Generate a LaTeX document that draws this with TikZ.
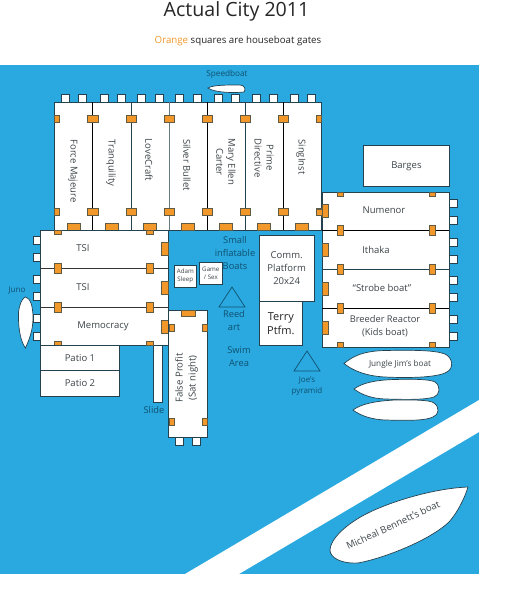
\documentclass[tikz,border=0pt]{standalone}
\usepackage{fontspec}
\setmainfont{Open Sans}
\definecolor{water}{HTML}{29A9E0}
\definecolor{gateo}{HTML}{F2982A}
\definecolor{edge}{HTML}{24414F}
\definecolor{txt}{HTML}{3C4448}
\definecolor{bluetxt}{HTML}{10506F}
\tikzset{
  deck/.style={draw=edge,fill=white,line width=0.9pt},
  gate/.style={draw=edge!70!gateo,fill=gateo,line width=0.4pt},
  cleat/.style={draw=edge,fill=white,line width=0.6pt},
  divider/.style={draw=black!80,line width=0.9pt},
  boatlabel/.style={text=txt,font=\fontsize{9.5}{12}\selectfont,align=center,inner sep=0pt},
  waterlabel/.style={text=bluetxt,font=\fontsize{9.3}{13}\selectfont,align=center,inner sep=0pt},
  hull/.style={draw=edge,fill=white,line width=0.7pt},
  pyr/.style={draw=bluetxt,line width=0.7pt}
}
\newcommand{\gt}[4]{\path[gate] (#1,#2) rectangle (#3,#4);}
\newcommand{\clt}[4]{\path[cleat] (#1,#2) rectangle (#3,#4);}
\begin{document}
\begin{tikzpicture}[x=1pt,y=-1pt]
\useasboundingbox (0,0) rectangle (507,600);
\fill[white] (0,0) rectangle (507,600);
\fill[water] (0,64.5) rectangle (479,574);
\fill[white] (185,574) -- (479,400) -- (479,432) -- (239,574) -- cycle;
\node[inner sep=0pt,font=\fontsize{19.6}{22}\selectfont,text=black!85] (title) at (236.5,11.5) {Actual City 2011};
\node[inner sep=0pt,font=\fontsize{9.7}{11}\selectfont,text=black!85] (sub) at (238,41) {{\color{gateo}Orange} squares are houseboat gates};
% top cleats
\foreach \a in {61,78.5,100,117,137,155,175,193,214,231,252,269,290,307}{\clt{\a}{94.5}{\a+8}{102}}
% left, right cleats
\foreach \a in {236,253,275,292,314,332}{\clt{33}{\a}{40}{\a+8}}
\foreach \a in {199,216,238,255,276,293,315,332}{\clt{449}{\a}{457}{\a+8}}
\foreach \a in {175,192}{\clt{\a}{437}{\a+8}{445}}
% top boats
\path[deck] (54,102) rectangle (321,230);
\foreach \a/\c in {92.5/black,131/edge,169/edge!70,207/black,245/edge,283/black}{\draw[\c,line width=0.9pt] (\a,102) -- (\a,230);}
\foreach \a in {119,212}{
 \gt{54}{\a-3.5}{59}{\a+3.5}\gt{87}{\a-3.5}{98}{\a+3.5}\gt{126}{\a-3.5}{136}{\a+3.5}\gt{164}{\a-3.5}{174}{\a+3.5}
 \gt{202}{\a-3.5}{212}{\a+3.5}\gt{240}{\a-3.5}{250}{\a+3.5}\gt{278}{\a-3.5}{288}{\a+3.5}\gt{316}{\a-3.5}{321}{\a+3.5}}
\foreach \a in {67,105,143,181,219,257,295}{\gt{\a}{223}{\a+13.5}{230}}
\node[boatlabel,rotate=-90] (fm) at (73,171) {\makebox[0pt]{}Force Majeure};
\node[boatlabel,rotate=-90] (tr) at (111,163) {Tranquility};
\node[boatlabel,rotate=-90] (lc) at (149,160) {LoveCraft};
\node[boatlabel,rotate=-90] (sb) at (187,165) {Silver Bullet};
\node[boatlabel,rotate=-90,align=center] (me) at (226,162) {Mary Ellen\\Carter};
\node[boatlabel,rotate=-90,align=center] (pd) at (264,158) {Prime\\Directive};
\node[boatlabel,rotate=-90] (si) at (301,157) {SingInst};
% barges
\node[deck,boatlabel,minimum width=86.5pt,minimum height=41pt,anchor=north west] (barges) at (362.7,145) {Barges};
% right boats
\path[deck] (322,192) rectangle (449,347);
\foreach \a/\c in {230/black,269/edge,308/black}{\draw[\c,line width=0.9pt] (322,\a) -- (449,\a);}
\foreach \x in {337,429}{
 \gt{\x}{192}{\x+6.5}{196}\gt{\x}{225}{\x+6.5}{235.5}\gt{\x}{264}{\x+6.5}{274}\gt{\x}{303}{\x+6.5}{313}\gt{\x}{342.5}{\x+6.5}{347}}
\gt{316}{209}{322}{215}
\foreach \a in {204,243,282,321}{\gt{322}{\a}{328.5}{\a+13}}
\node[boatlabel] (nu) at (384,210.5) {Numenor};
\node[boatlabel] (it) at (376,249.5) {Ithaka};
\node[boatlabel] (st) at (382,288) {“Strobe boat”};
\node[boatlabel,font=\fontsize{9.3}{13}\selectfont] (br) at (385,326.5) {Breeder Reactor\\(Kids boat)};
% left boats
\path[deck] (40,230) rectangle (168,345);
\foreach \a in {268,307}{\draw[divider] (40,\a) -- (168,\a);}
\foreach \x in {54,146}{
 \gt{\x}{230}{\x+7}{234}\gt{\x}{263}{\x+7}{273.5}\gt{\x}{302}{\x+7}{312}\gt{\x}{341}{\x+7}{345}}
\foreach \a in {242,281,320}{\gt{161}{\a}{168}{\a+13}}
\gt{168}{325}{174}{332}
\node[boatlabel] (t1) at (83,248.5) {TSI};
\node[boatlabel] (t2) at (83,287) {TSI};
\node[boatlabel] (mm) at (103,326) {Memocracy};
% patios, slide
\node[deck,boatlabel,minimum width=79pt,minimum height=25pt,anchor=north west] (p1) at (40,345) {Patio 1};
\node[deck,boatlabel,minimum width=79pt,minimum height=25.5pt,anchor=north west] (p2) at (40,370) {Patio 2};
\path[deck,line width=0.7pt] (153,345) rectangle (162,402);
\gt{146}{341}{153}{345}
% false profit
\path[deck] (168.7,310) rectangle (207,437.5);
\gt{181}{310}{195}{316}
\foreach \a in {324,418}{\gt{168.7}{\a}{174}{\a+7}\gt{202}{\a}{207}{\a+7}}
\node[boatlabel,rotate=90,font=\fontsize{9.6}{13}\selectfont] (fp) at (186.5,378) {False Profit\\(Sat night)};
% platforms
\node[deck,boatlabel,minimum width=55pt,minimum height=66pt,anchor=north west,font=\fontsize{9.5}{13}\selectfont] (comm) at (258.7,235) {Comm.\\Platform\\20x24};
\node[deck,boatlabel,minimum width=43.5pt,minimum height=44pt,anchor=north west,text=black!85,font=\fontsize{11}{14}\selectfont] (terry) at (258.7,301) {Terry\\Ptfm.};
\node[deck,boatlabel,line width=0.7pt,minimum width=22pt,minimum height=22pt,anchor=north west,font=\fontsize{6.2}{8}\selectfont] (adam) at (174,265) {Adam\\Sleep};
\node[deck,boatlabel,line width=0.7pt,minimum width=23pt,minimum height=22pt,anchor=north west,font=\fontsize{6.2}{8}\selectfont] (game) at (199,262) {Game\\/ Sex};
% pyramids
\draw[pyr] (232,287) -- (245,307) -- (219,307) -- cycle;
\draw[pyr] (307,351) -- (320,371) -- (294,371) -- cycle;
% water labels
\node[waterlabel] (sm) at (235,253) {Small\\inflatable\\Boats};
\node[waterlabel] (re) at (234,321) {Reed\\art};
\node[waterlabel] (sw) at (239,357) {Swim\\Area};
\node[waterlabel,font=\fontsize{8}{10.5}\selectfont] (jp) at (307,386) {Joe's\\pyramid};
\node[waterlabel] (sl) at (154,410) {Slide};
\node[waterlabel,font=\fontsize{8}{9}\selectfont] (ju) at (17,290) {Juno};
\node[waterlabel,font=\fontsize{8.2}{9}\selectfont] (sp) at (227,74) {Speedboat};
% boats
\path[hull] (18.5,312) .. controls (20,301) and (24,297) .. (25.5,297) .. controls (30,298) and (33,305) .. (33,318) .. controls (33,332) and (28,342) .. (25.5,348) .. controls (21,342) and (18,330) .. (18.5,312) -- cycle;
\path[hull] (208,88) .. controls (213,85) and (225,85) .. (240,85) .. controls (245,85) and (246,90) .. (244,92) .. controls (235,93) and (215,93) .. (208,88) -- cycle;
\path[hull] (344,363.5) .. controls (352,357) and (362,351) .. (385,350.5) .. controls (410,350) and (435,350) .. (445,354) .. controls (453,358) and (454,368) .. (447,372) .. controls (437,378) and (405,378) .. (385,377) .. controls (365,376) and (352,370) .. (344,363.5) -- cycle;
\path[hull] (354,389) .. controls (362,383) and (375,380) .. (395,379.5) .. controls (410,379) and (430,379) .. (435,382) .. controls (441,386) and (440,395) .. (434,397) .. controls (425,400) and (405,399.5) .. (385,399) .. controls (372,398.5) and (362,395) .. (354,389) -- cycle;
\path[hull] (353,410) .. controls (361,404) and (375,401) .. (395,400) .. controls (410,400) and (430,399.5) .. (434,403) .. controls (440,407) and (439,415) .. (433,417) .. controls (425,421) and (405,420.5) .. (385,420) .. controls (372,419.5) and (361,416) .. (353,410) -- cycle;
\path[hull] (468,487) .. controls (440,488) and (400,498) .. (370,512) .. controls (345,524) and (330,540) .. (330,550) .. controls (330,558) and (342,564) .. (358,563) .. controls (385,558) and (430,540) .. (449,522) .. controls (458,512) and (465,497) .. (468,487) -- cycle;
\node[boatlabel,font=\fontsize{8.2}{10}\selectfont] (jj) at (400,364) {Jungle Jim's boat};
\node[boatlabel,rotate=25,font=\fontsize{9.6}{11}\selectfont] (mb) at (393,525) {Micheal Bennett's boat};
\end{tikzpicture}
\end{document}
